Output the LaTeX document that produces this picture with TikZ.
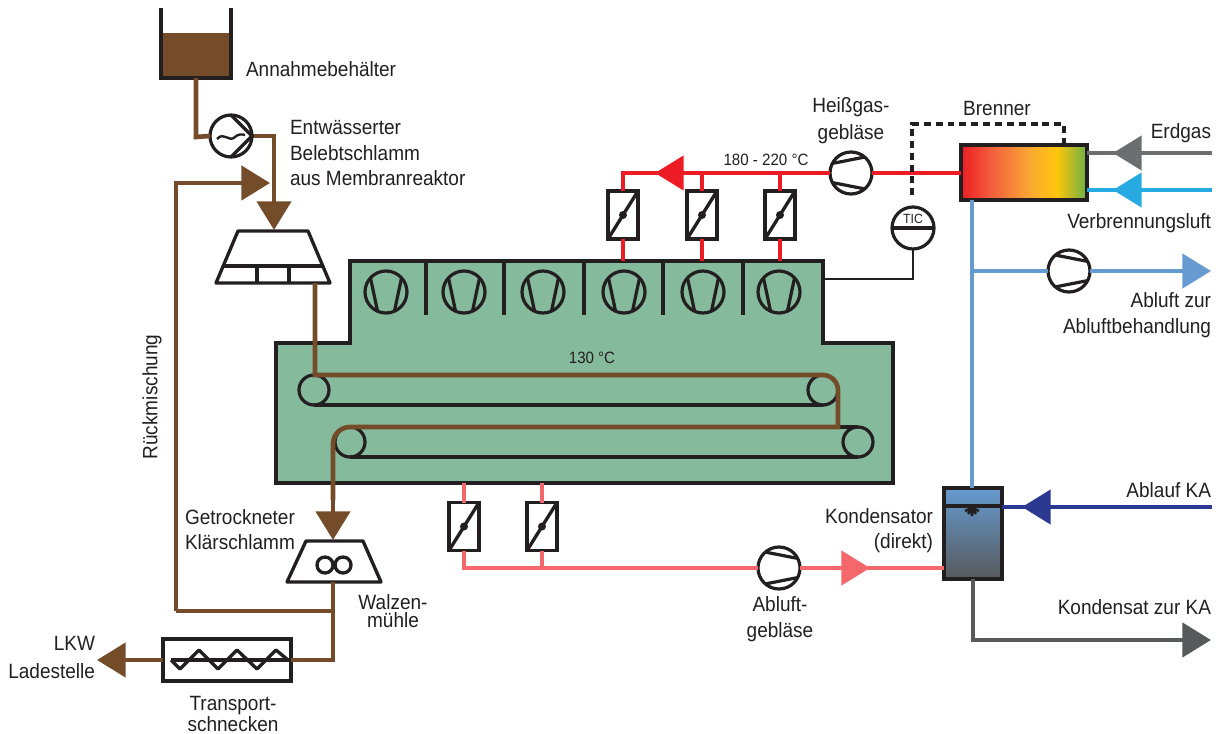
\documentclass[tikz,border=0pt]{standalone}
\usepackage{fontspec}
\setmainfont{Liberation Sans}[FakeStretch=0.92]
\usetikzlibrary{arrows.meta,calc}
\definecolor{ink}{HTML}{231F20}
\definecolor{sludge}{HTML}{754C29}
\definecolor{dryer}{HTML}{85BB9C}
\definecolor{hotred}{HTML}{ED1C24}
\definecolor{pinkair}{HTML}{F4676A}
\definecolor{exhblue}{HTML}{659BD0}
\definecolor{airblue}{HTML}{27AAE1}
\definecolor{kablue}{HTML}{2B3990}
\definecolor{gasgrey}{HTML}{6D6E71}
\definecolor{condgrey}{HTML}{58595B}
\definecolor{bA}{HTML}{ED1C24}
\definecolor{bB}{HTML}{F15F3C}
\definecolor{bC}{HTML}{FAA634}
\definecolor{bD}{HTML}{FFC60B}
\definecolor{bE}{HTML}{6BB045}
\pgfdeclarehorizontalshading{burnergrad}{100bp}{color(0bp)=(bA);color(25bp)=(bA);color(37bp)=(bB);color(52bp)=(bC);color(63bp)=(bD);color(75bp)=(bE);color(100bp)=(bE)}
\tikzset{
  pipe/.style={line width=3.5pt,draw=#1,line cap=butt,line join=miter},
  head/.style={-{Triangle[length=21.5pt,width=25.5pt,fill=#1]}},
  blk/.style={draw=ink,line width=2.5pt,line join=miter},
  fanbase/.style={circle,draw=ink,fill=white,line width=2.4pt,minimum size=31.5pt,inner sep=0pt,outer sep=0pt},
  fanR/.style={fanbase,path picture={\draw[ink,line width=2.4pt,shift={(path picture bounding box.center)}]
      (-14,-16)--(19,-9.5) (-14,16)--(19,9.5);}},
  fanL/.style={fanbase,path picture={\draw[ink,line width=2.4pt,shift={(path picture bounding box.center)}]
      (14,-16)--(-19,-9.5) (14,16)--(-19,9.5);}},
  fanD/.style={fanbase,fill=dryer,path picture={\draw[ink,line width=2.4pt,shift={(path picture bounding box.center)}]
      (-15.5,-14)--(-8.5,19) (15.5,-14)--(8.5,19);}},
  valve/.style={rectangle,draw=ink,fill=white,line width=2.5pt,minimum width=22.5pt,minimum height=36pt,inner sep=0pt,outer sep=0pt,
    path picture={\draw[ink,line width=2.5pt] (path picture bounding box.south west)--(path picture bounding box.north east);
      \fill[ink] (path picture bounding box.center) circle[radius=4];}},
  pulley/.style={circle,draw=ink,line width=2.4pt,minimum size=22.5pt,inner sep=0pt,outer sep=0pt},
  lbl/.style={inner sep=0pt,outer sep=0pt,text=ink,font=\fontsize{15.5}{18.8}\selectfont},
  smalllbl/.style={inner sep=0pt,outer sep=0pt,text=ink,font=\fontsize{12.3}{15}\selectfont},
}
\begin{document}
\begin{tikzpicture}[x=0.75pt,y=-0.75pt]
\useasboundingbox (0,0) rectangle (1216,734);

% ---- dryer body
\draw[blk,fill=dryer] (350,261)--(823,261)--(823,343)--(893,343)--(893,483)--(276,483)--(276,343)--(350,343)--cycle;
\foreach \xx in {426,504,584,663,743}{\draw[blk] (\xx,261)--(\xx,315);}
\node[fanD] (d1) at (386,292) {};
\node[fanD] (d2) at (464,292) {};
\node[fanD] (d3) at (543,292) {};
\node[fanD] (d4) at (624,292) {};
\node[fanD] (d5) at (703,292) {};
\node[fanD] (d6) at (779,292) {};

% ---- belts
\node[pulley] (p1) at (314,390) {};
\node[pulley] (p2) at (823,390) {};
\node[pulley] (p3) at (350,442) {};
\node[pulley] (p4) at (858,442) {};
\draw[blk,line width=2.4pt] (314,405)--(823,405) (350,457)--(858,457) (838,427)--(858,427);

% ---- named points
\coordinate (tankOut) at (196,78);
\coordinate (pumpIn) at (196,137);
\coordinate (hopperIn) at (274,230);
\coordinate (mixTip) at (270,183);
\coordinate (mixCorner) at (176,183);
\coordinate (mixStart) at (176,611);
\coordinate (hopperOut) at (315,283);
\coordinate (millIn) at (333,540);
\coordinate (millOut) at (333,582);
\coordinate (split) at (333,611);
\coordinate (truck) at (97,660);

% ---- tank
\fill[sludge] (161,33) rectangle (231,78);
\draw[blk] (161,8)--(161,78)--(231,78)--(231,8);

% ---- hopper
\draw[blk,fill=white,line join=round] (238,231)--(308,231)--(330,283)--(216,283)--cycle;
\draw[blk] (223,266)--(323,266) (257,266)--(257,283) (289,266)--(289,283);

% ---- mill
\draw[blk,fill=white,line join=round] (306,541)--(363,541)--(381,582)--(287,582)--cycle;
\draw[blk] (325,565) circle[radius=8] (343,565) circle[radius=8];

% ---- sludge line
\node[fanbase] (pump) at (231,136) {};
\draw[pipe=sludge] (tankOut)--(pumpIn)--(pump.west);
\draw[pipe=sludge,head=sludge] (pump.east)--(274,136)--(hopperIn);
\draw[pipe=sludge,head=sludge] (mixStart)--(mixCorner)--(mixTip);
\draw[blk,line width=2.4pt] (231,115)--(252,136)--(231,157);
\draw[ink,line width=1.8pt] (217,139) .. controls (224,131) and (229,143) .. (235,137) .. controls (238,134) and (242,134) .. (245,135);
\draw[pipe=sludge] (hopperOut)--(315,375)--(823,375) .. controls (831,375) and (838,382) .. (838,390) --(838,427)--(350,427) .. controls (341,427) and (333,434) .. (333,444) --(333,500);
\draw[pipe=sludge,head=sludge] (333,483)--(millIn);

\node[rectangle,draw=ink,fill=white,line width=2.4pt,minimum width=96pt,minimum height=31.5pt,inner sep=0pt,outer sep=0pt] (screw) at (227,660) {};
\draw[pipe=sludge] (millOut)--(split)--(mixStart);
\draw[pipe=sludge] (split)--(333,660)--(screw.east);
\draw[pipe=sludge,head=sludge] (screw.west)--(truck);
\draw[blk] (171,660)--(290,660);
\draw[blk,line join=round] (171,660)--(180,669)--(199,650)--(218,669)--(237,650)--(257,669)--(276,650)--(288,660);

% ---- hot gas
\node[rectangle,draw=ink,line width=3pt,shading=burnergrad,minimum width=94.5pt,minimum height=41.25pt,inner sep=0pt,outer sep=0pt] (burner) at (1024,172.5) {};
\node[fanL] (hotfan) at (851,173) {};
\node[valve] (v1) at (623,215) {};
\node[valve] (v2) at (702,215) {};
\node[valve] (v3) at (780,215) {};
\draw[pipe=hotred] (burner.west|-hotfan)--(hotfan.east);
\draw[pipe=hotred] (hotfan.west)--(702,173);
\draw[pipe=hotred,head=hotred] (702,173)--(655,173);
\draw[pipe=hotred] (681,173)--(623,173)--(v1.north);
\draw[pipe=hotred] (702,173)--(v2.north);
\draw[pipe=hotred] (780,173)--(v3.north);
\draw[pipe=hotred] (v1.south)--(623,261);
\draw[pipe=hotred] (v2.south)--(702,261);
\draw[pipe=hotred] (v3.south)--(780,261);

% ---- burner inputs
\coordinate (gasIn) at (1212,153);
\coordinate (airIn) at (1212,190);
\draw[pipe=gasgrey,head=gasgrey] (gasIn)--(1113,153);
\draw[pipe=gasgrey] (1140,153)--(burner.east|-gasIn);
\draw[pipe=airblue,head=airblue] (airIn)--(1113,190);
\draw[pipe=airblue] (1140,190)--(burner.east|-airIn);

% ---- control
\node[circle,draw=ink,fill=white,line width=2.4pt,minimum size=31.5pt,inner sep=0pt,outer sep=0pt,
  path picture={\draw[ink,line width=2.4pt] (path picture bounding box.west)--(path picture bounding box.east);}] (tic) at (913,228) {};
\node[inner sep=0pt,text=ink,font=\fontsize{10}{12}\selectfont] (ticl) at (913,219) {TIC};
\draw[blk,line width=2.2pt] (tic.south)--(913,279)--(823,279);
\draw[ink,line width=2.4pt,dash pattern=on 5.2pt off 3.7pt] (1064,145)--(1064,124)--(912,124)--(912,197);

% ---- exhaust
\node[fanR] (exfan) at (1069,271) {};
\node[rectangle,draw=ink,line width=3pt,top color=exhblue,bottom color=condgrey,minimum width=43.5pt,minimum height=68.25pt,inner sep=0pt,outer sep=0pt] (cond) at (973,533.5) {};
\draw[pipe=exhblue] (972,200)--(cond.north-|972,0);
\draw[pipe=exhblue] (972,271)--(exfan.west);
\draw[pipe=exhblue,head=exhblue] (exfan.east)--(1211,271);
\draw[ink,line width=2.4pt] (945,506)--(1001,506);
\draw[ink,line width=1.9pt] (972,508)--(965,511) (972,508)--(968,514) (972,508)--(972,516) (972,508)--(976,514) (972,508)--(979,511);
\draw[pipe=kablue,head=kablue] (1212,507)--(1022,507);
\draw[pipe=kablue] (1048,507)--(cond.east|-0,507);
\draw[pipe=condgrey,head=condgrey] (973,579)--(973,640)--(1211,640);

% ---- cooled air
\node[valve] (v4) at (464,526.5) {};
\node[valve] (v5) at (542,526.5) {};
\node[fanR] (airfan) at (779,568) {};
\draw[pipe=pinkair] (464,483)--(v4.north);
\draw[pipe=pinkair] (542,483)--(v5.north);
\draw[pipe=pinkair] (v4.south)--(464,568)--(airfan.west);
\draw[pipe=pinkair] (v5.south)--(542,568);
\draw[pipe=pinkair,head=pinkair] (airfan.east)--(870,568);
\draw[pipe=pinkair] (850,568)--(cond.west|-0,568);

% ---- texts
\node[lbl,anchor=west] (t1) at (246,69) {Annahmebehälter};
\node[lbl,anchor=west,align=left] (t2) at (290,153) {Entwässerter\\Belebtschlamm\\aus Membranreaktor};
\node[lbl,align=center,font=\fontsize{15.5}{20}\selectfont] (t3) at (851,120.5) {Heißgas-\\gebläse};
\node[lbl] (t4) at (997,108) {Brenner};
\node[smalllbl] (t5) at (766,160) {180 - 220 °C};
\node[lbl,anchor=east] (t6) at (1211,133) {Erdgas};
\node[lbl,anchor=east] (t7) at (1211,223) {Verbrennungsluft};
\node[lbl,anchor=east,align=right,font=\fontsize{15.5}{19.5}\selectfont] (t8) at (1211,315) {Abluft zur\\Abluftbehandlung};
\node[smalllbl] (t9) at (592,358) {130 °C};
\node[lbl,rotate=90] (t10) at (152,397) {Rückmischung};
\node[lbl,anchor=west,align=left] (t11) at (185,530) {Getrockneter\\Klärschlamm};
\node[lbl,align=center,font=\fontsize{15.5}{14}\selectfont] (t12) at (393,611) {Walzen-\\mühle};
\node[lbl,align=center,font=\fontsize{15.5}{14}\selectfont] (t13) at (233,714) {Transport-\\schnecken};
\node[lbl,anchor=east,align=right,font=\fontsize{15.5}{21.5}\selectfont] (t14) at (95,657.5) {LKW\\Ladestelle};
\node[lbl,anchor=east,align=right] (t15) at (933,530.5) {Kondensator\\(direkt)};
\node[lbl,align=center,font=\fontsize{15.5}{19.5}\selectfont] (t16) at (780,619) {Abluft-\\gebläse};
\node[lbl,anchor=east] (t17) at (1211,490) {Ablauf KA};
\node[lbl,anchor=east] (t18) at (1211,607) {Kondensat zur KA};
\end{tikzpicture}
\end{document}
